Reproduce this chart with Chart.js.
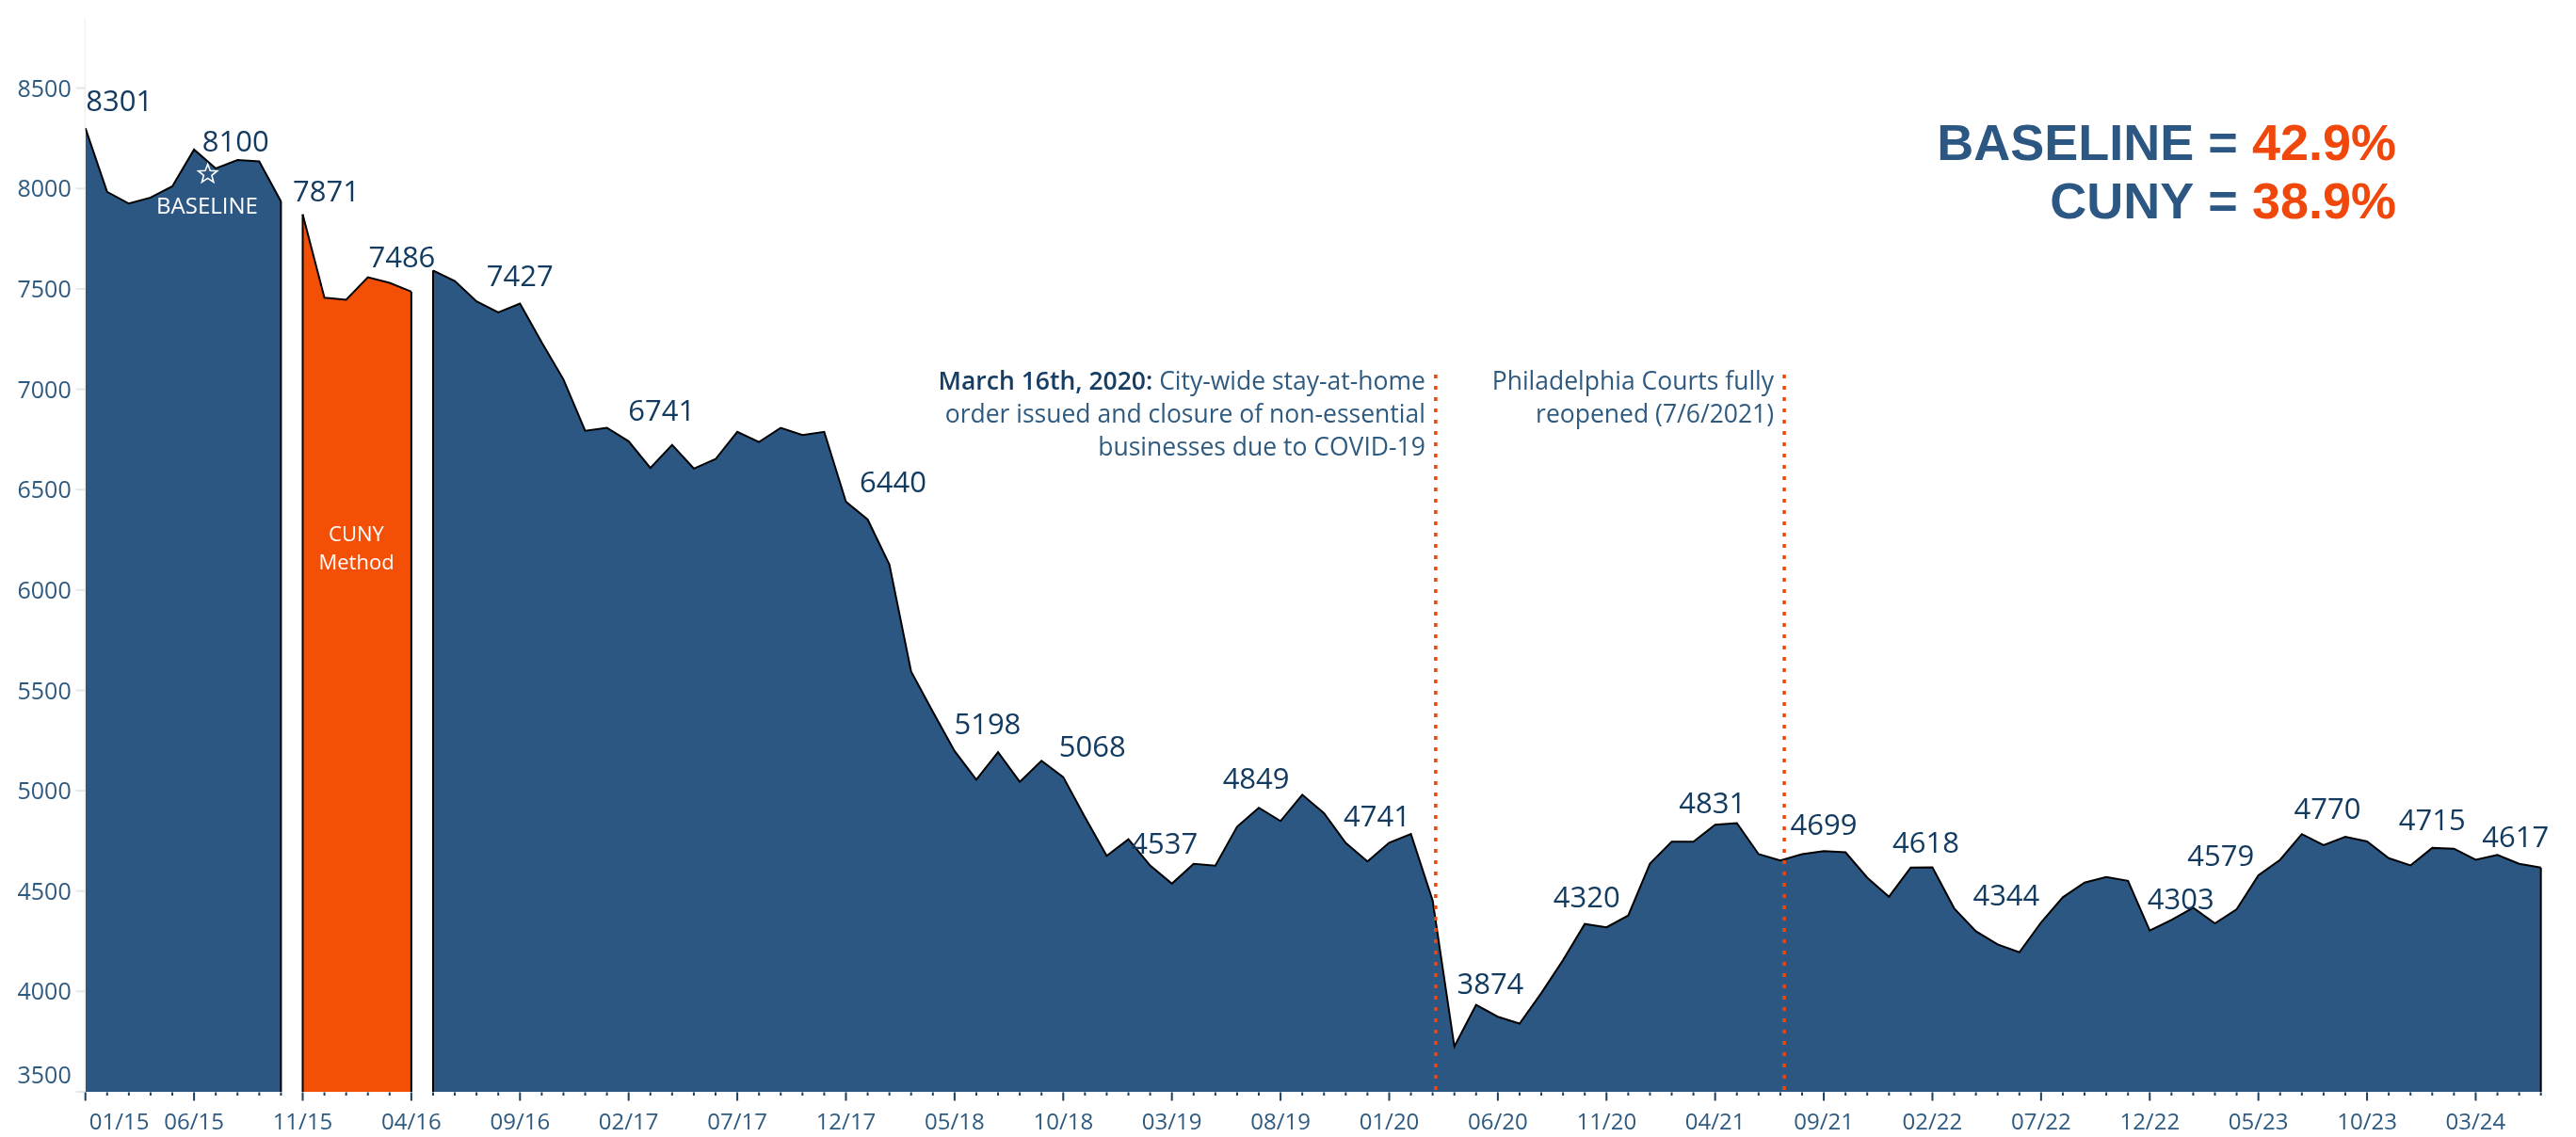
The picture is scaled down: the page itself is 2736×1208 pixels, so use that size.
<!DOCTYPE html>
<html><head><meta charset="utf-8">
<script src="https://cdn.jsdelivr.net/npm/chart.js@4.4.1/dist/chart.umd.min.js"></script>
<style>html,body{margin:0;padding:0;background:#fff;overflow:hidden}canvas{display:block}</style>
</head><body>
<canvas id="c" width="2736" height="1208" style="width:2736px;height:1208px"></canvas>
<script>
// ---- data ----
const startYear = 2015, startMonth = 1;
const baselineValues = [8301, 7983, 7925, 7955, 8011, 8194, 8100, 8142, 8135, 7936];
const cunyValues = [7871, 7456, 7446, 7558, 7530, 7486];
const postValues = [
  7592, 7539, 7438, 7383, 7427, 7233, 7049, 6793, 6808, 6741,
  6608, 6723, 6605, 6652, 6788, 6737, 6808, 6772, 6788, 6440,
  6351, 6127, 5594, 5393, 5198, 5055, 5192, 5044, 5149, 5068,
  4868, 4676, 4758, 4627, 4537, 4636, 4627, 4821, 4915, 4849,
  4980, 4888, 4740, 4648, 4741, 4784, 4453, 3726, 3933, 3874,
  3840, 3992, 4156, 4336, 4320, 4378, 4637, 4746, 4746, 4831,
  4839, 4684, 4653, 4684, 4699, 4693, 4567, 4472, 4617, 4618,
  4414, 4300, 4234, 4195, 4344, 4469, 4542, 4570, 4551, 4303,
  4356, 4417, 4339, 4409, 4579, 4656, 4784, 4729, 4770, 4747,
  4664, 4628, 4715, 4711, 4656, 4680, 4636, 4617
];
const tickLabels = ['01/15','06/15','11/15','04/16','09/16','02/17','07/17','12/17','05/18','10/18','03/19','08/19',
  '01/20','06/20','11/20','04/21','09/21','02/22','07/22','12/22','05/23','10/23','03/24'];
const yTicks = [3500, 4000, 4500, 5000, 5500, 6000, 6500, 7000, 7500, 8000, 8500];
const labeledPoints = [0, 6, 10, 15, 20, 25, 35, 40, 45, 50, 55, 60, 65, 70, 75, 80, 85, 90, 95, 100, 104, 108, 113];
const events = [
  {month: '03/20', frac: 0.14, bold: 'March 16th, 2020:', lines: [' City-wide stay-at-home', 'order issued and closure of non-essential', 'businesses due to COVID-19']},
  {month: '07/21', frac: 0.18, bold: '', lines: ['Philadelphia Courts fully', 'reopened (7/6/2021)']}
];
const summary = [['BASELINE = ', '42.9%'], ['CUNY = ', '38.9%']];

// ---- layout-only nudges for value labels [dx, dy] ----
const labelNudge = [[36,18],[21,18],[25,14],[-10,26],[0,18],[35,22],[50,10],[35,18],[31,22],[-8,32],[-26,34],[-13,17],
  [-8,24],[-21,21],[-3,12],[0,17],[-7,16],[-37,18],[33,23],[-40,10],[-19,19],[0,19],[-27,22]];

// ---- build ----
const total = baselineValues.length + cunyValues.length + postValues.length;
const categories = [];
for (let k = 0; k < total; k++) {
  const m = (startMonth - 1 + k) % 12 + 1, yr = startYear + Math.floor((startMonth - 1 + k) / 12);
  categories.push(String(m).padStart(2, '0') + '/' + String(yr % 100).padStart(2, '0'));
}
function pad(values, start) {
  const arr = new Array(total).fill(null);
  values.forEach((v, i) => arr[start + i] = v);
  return arr;
}
const allValues = baselineValues.concat(cunyValues, postValues);

const C = {blue: '#2c5783', orange: '#f44f07', label: '#133b60', axis: '#2f5a80', note: '#2f5a80', noteBold: '#163d63'};
const F = '"Open Sans", "Noto Sans", sans-serif';

const overlay = {
  id: 'overlay',
  afterDatasetsDraw(chart) {
    const {ctx, chartArea: a, scales: {x, y}} = chart;
    ctx.save();
    // pane edges
    ctx.strokeStyle = '#000'; ctx.lineWidth = 2;
    chart.data.datasets.forEach((ds, di) => {
      const meta = chart.getDatasetMeta(di);
      const idx = ds.data.map((v, i) => v == null ? -1 : i).filter(i => i >= 0);
      [idx[0], idx[idx.length - 1]].forEach(i => {
        if (i === 0) return;
        const p = meta.data[i];
        ctx.beginPath(); ctx.moveTo(p.x, p.y); ctx.lineTo(p.x, a.bottom); ctx.stroke();
      });
    });
    // event lines + notes
    events.forEach(ev => {
      const px = x.getPixelForValue(categories.indexOf(ev.month) + ev.frac);
      ctx.save();
      ctx.strokeStyle = '#f0480c'; ctx.lineWidth = 3.5; ctx.setLineDash([4, 8]);
      ctx.beginPath(); ctx.moveTo(px, 398); ctx.lineTo(px, a.bottom); ctx.stroke();
      ctx.restore();
      ctx.textAlign = 'right'; ctx.textBaseline = 'alphabetic';
      const R = px - 11;
      ev.lines.forEach((ln, li) => {
        const by = 414 + li * 35;
        ctx.font = '26.5px ' + F; ctx.fillStyle = C.note;
        ctx.fillText(ln, R, by);
        if (li === 0 && ev.bold) {
          const w = ctx.measureText(ln).width;
          ctx.font = '600 26.5px ' + F; ctx.fillStyle = C.noteBold;
          ctx.fillText(ev.bold, R - w, by);
        }
      });
    });
    // value labels
    ctx.font = '31px ' + F; ctx.fillStyle = C.label; ctx.textAlign = 'center'; ctx.textBaseline = 'alphabetic';
    labeledPoints.forEach((i, k) => {
      const px = x.getPixelForValue(i), py = y.getPixelForValue(allValues[i]);
      ctx.fillText(String(allValues[i]), px + labelNudge[k][0], py - labelNudge[k][1]);
    });
    // in-area texts
    ctx.fillStyle = '#fff'; ctx.font = '24px ' + F; ctx.textBaseline = 'middle';
    ctx.fillText('BASELINE', x.getPixelForValue(5.6), y.getPixelForValue(7905));
    const cx = x.getPixelForValue(12.47);
    ctx.font = '22px ' + F;
    ctx.fillText('CUNY', cx, y.getPixelForValue(6271));
    ctx.fillText('Method', cx, y.getPixelForValue(6133));
    // star
    const sx = x.getPixelForValue(5.63), sy = y.getPixelForValue(8072);
    ctx.beginPath();
    for (let k = 0; k < 10; k++) {
      const r = k % 2 === 0 ? 10.5 : 4.5, ang = -Math.PI / 2 + k * Math.PI / 5;
      const qx = sx + r * Math.cos(ang), qy = sy + r * Math.sin(ang);
      k === 0 ? ctx.moveTo(qx, qy) : ctx.lineTo(qx, qy);
    }
    ctx.closePath(); ctx.strokeStyle = '#fff'; ctx.lineWidth = 1.6; ctx.stroke();
    // y axis
    ctx.strokeStyle = '#ececec'; ctx.lineWidth = 1;
    ctx.beginPath(); ctx.moveTo(a.left - 0.5, a.top); ctx.lineTo(a.left - 0.5, a.bottom); ctx.stroke();
    ctx.font = '25px ' + F; ctx.fillStyle = C.axis; ctx.textAlign = 'right'; ctx.textBaseline = 'middle';
    yTicks.forEach(v => {
      const py = y.getPixelForValue(v);
      ctx.strokeStyle = '#e6e6e6'; ctx.lineWidth = 2;
      ctx.beginPath(); ctx.moveTo(a.left - 10, py); ctx.lineTo(a.left, py); ctx.stroke();
      ctx.fillText(String(v), a.left - 15, Math.min(py + 2, a.bottom - 16));
    });
    // x axis ticks
    ctx.fillStyle = '#1c3f63';
    categories.forEach((c, i) => {
      const px = x.getPixelForValue(i);
      const major = tickLabels.includes(c);
      ctx.fillRect(px - 1, a.bottom + 0.5, 2, major ? 9 : 3.5);
    });
    ctx.font = '24px ' + F; ctx.fillStyle = C.axis; ctx.textBaseline = 'alphabetic';
    tickLabels.forEach((t, k) => {
      const px = x.getPixelForValue(categories.indexOf(t));
      if (k === 0) { ctx.textAlign = 'left'; ctx.fillText(t, px + 4, 1200); }
      else { ctx.textAlign = 'center'; ctx.fillText(t, px, 1200); }
    });
    // summary text
    ctx.font = 'bold 54px "Liberation Sans", Arial, sans-serif'; ctx.textAlign = 'right';
    summary.forEach((s, k) => {
      const by = 170 + k * 61.7, R = 2545;
      ctx.fillStyle = '#f0480c'; ctx.fillText(s[1], R, by);
      const w = ctx.measureText(s[1]).width;
      ctx.fillStyle = C.blue; ctx.fillText(s[0], R - w, by);
    });
    ctx.restore();
  }
};

const common = {fill: 'start', borderColor: '#000', borderWidth: 2, pointRadius: 0, tension: 0, spanGaps: false};
new Chart(document.getElementById('c').getContext('2d'), {
  type: 'line',
  data: {
    labels: categories,
    datasets: [
      Object.assign({label: 'Baseline', data: pad(baselineValues, 0), backgroundColor: C.blue}, common),
      Object.assign({label: 'CUNY', data: pad(cunyValues, baselineValues.length), backgroundColor: C.orange}, common),
      Object.assign({label: 'Post', data: pad(postValues, baselineValues.length + cunyValues.length), backgroundColor: C.blue}, common)
    ]
  },
  options: {
    responsive: false, animation: false, devicePixelRatio: 1,
    layout: {padding: {left: 90.7, right: 37.3, top: 19, bottom: 48}},
    plugins: {legend: {display: false}, tooltip: {enabled: false}},
    scales: {x: {display: false}, y: {display: false, min: 3500, max: 8850}}
  },
  plugins: [overlay]
});
</script>
</body></html>
